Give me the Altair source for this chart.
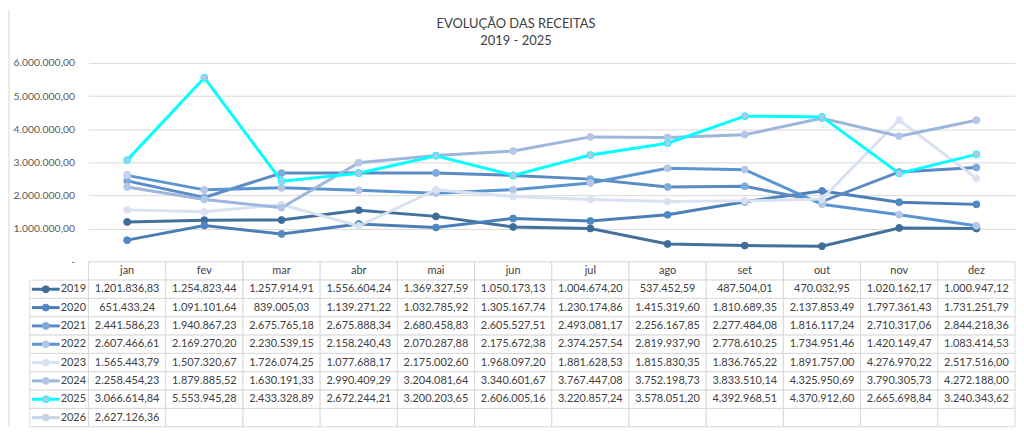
import altair as alt
import pandas as pd

months = ["jan", "fev", "mar", "abr", "mai", "jun", "jul", "ago", "set", "out", "nov", "dez"]
years = ["2019", "2020", "2021", "2022", "2023", "2024", "2025", "2026"]

v2019 = [1201836.83, 1254823.44, 1257914.91, 1556604.24, 1369327.59, 1050173.13,
         1004674.20, 537452.59, 487504.01, 470032.95, 1020162.17, 1000947.12]
v2020 = [651433.24, 1091101.64, 839005.03, 1139271.22, 1032785.92, 1305167.74,
         1230174.86, 1415319.60, 1810689.35, 2137853.49, 1797361.43, 1731251.79]
v2021 = [2441586.23, 1940867.23, 2675765.18, 2675888.34, 2680458.83, 2605527.51,
         2493081.17, 2256167.85, 2277484.08, 1816117.24, 2710317.06, 2844218.36]
v2022 = [2607466.61, 2169270.20, 2230539.15, 2158240.43, 2070287.88, 2175672.38,
         2374257.54, 2819937.90, 2778610.25, 1734951.46, 1420149.47, 1083414.53]
v2023 = [1565443.79, 1507320.67, 1726074.25, 1077688.17, 2175002.60, 1968097.20,
         1881628.53, 1815830.35, 1836765.22, 1891757.00, 4276970.22, 2517516.00]
v2024 = [2258454.23, 1879885.52, 1630191.33, 2990409.29, 3204081.64, 3340601.67,
         3767447.08, 3752198.73, 3833510.14, 4325950.69, 3790305.73, 4272188.00]
v2025 = [3066614.84, 5553945.28, 2433328.89, 2672244.21, 3200203.65, 2606005.16,
         3220857.24, 3578051.20, 4392968.51, 4370912.60, 2665698.84, 3240343.62]
v2026 = [2627126.36, None, None, None, None, None, None, None, None, None, None, None]

y_ticks = [0, 1000000, 2000000, 3000000, 4000000, 5000000, 6000000]

line_colors = ["#44719C", "#4A7EB6", "#5B8BC3", "#5B95D1", "#D9E2F2", "#9CB6DE", "#00FFFF", "#C8D5EC"]
marker_fill = ["#3F6D99", "#4F89C4", "#7DAADD", "#B4C7E7", "#D9E2F3", "#B4C7E7", "#B4C7E7", "#C5D3EA"]
marker_stroke = ["#3F6D99", "#4F89C4", "#7DAADD", "#B4C7E7", "#D9E2F3", "#B4C7E7", "#00FFFF", "#C5D3EA"]

series = dict(zip(years, [v2019, v2020, v2021, v2022, v2023, v2024, v2025, v2026]))

recs = []
for yr in years:
    for m, v in zip(months, series[yr]):
        if v is not None:
            recs.append({"ano": yr, "mes": m, "valor": v})
df = pd.DataFrame(recs)

FONT = "Lato"
TXT = "#404040"
GRID = "#D9D9D9"
W = 932

color_scale = alt.Scale(domain=years, range=line_colors)
fill_scale = alt.Scale(domain=years, range=marker_fill)
stroke_scale = alt.Scale(domain=years, range=marker_stroke)

x_pt = alt.X("mes:O", sort=months, axis=None, scale=alt.Scale(domain=months, padding=0.5))
y_val = alt.Y(
    "valor:Q",
    scale=alt.Scale(domain=[0, 6000000], nice=False),
    axis=alt.Axis(values=y_ticks, format=",.2f",
                  labelExpr="datum.value == 0 ? '-' : datum.label",
                  grid=True, gridColor=GRID, gridWidth=1, domain=False, ticks=False,
                  labelPadding=14, title=None, labelFont=FONT, labelFontSize=10.5,
                  labelColor="#595959"),
)

lines = alt.Chart(df).mark_line(strokeWidth=3).encode(
    x=x_pt, y=y_val,
    color=alt.Color("ano:N", scale=color_scale, legend=None),
)
points = alt.Chart(df).mark_circle(size=48, opacity=1, strokeWidth=1).encode(
    x=x_pt, y=y_val,
    fill=alt.Fill("ano:N", scale=fill_scale, legend=None),
    stroke=alt.Stroke("ano:N", scale=stroke_scale, legend=None),
)

top = alt.layer(lines, points).properties(
    width=W, height=200,
    title=alt.Title(["EVOLUÇÃO DAS RECEITAS", "2019 - 2025"], font=FONT, fontSize=13,
                    fontWeight="normal", color=TXT, anchor="middle", frame="group",
                    dx=-36, offset=10, lineHeight=17),
)

# ---- data table ----
rows = ["h"] + years
cells = pd.DataFrame([{"row": r, "mes": m} for r in rows for m in months])
header = pd.DataFrame([{"row": "h", "mes": m} for m in months])
legend_df = pd.DataFrame({"row": years, "ano": years})
vals = df.copy()
vals["row"] = vals["ano"]

x_band = alt.X("mes:O", sort=months, axis=None,
               scale=alt.Scale(domain=months, paddingInner=0, paddingOuter=0))
y_band = alt.Y("row:O", sort=rows,
               scale=alt.Scale(domain=rows, paddingInner=0, paddingOuter=0),
               axis=alt.Axis(labelExpr="datum.value == 'h' ? '' : datum.value",
                             ticks=False, domain=False, labelPadding=3, title=None,
                             labelFont=FONT, labelFontSize=11, labelColor=TXT))

frame = alt.Chart(pd.DataFrame({"k": [0]})).mark_rule(color=GRID, strokeWidth=1).encode(
    x=alt.value(-80), y=alt.value(-253), y2=alt.value(166)
)
cell_rects = alt.Chart(cells).mark_rect(fill="white", stroke=GRID, strokeWidth=1).encode(
    x=x_band, y=y_band)
left_rects = alt.Chart(legend_df).mark_rect(fill="white", stroke=GRID, strokeWidth=1).encode(
    x=alt.value(-59), x2=alt.value(0), y=y_band)
leg_lines = alt.Chart(legend_df).mark_rule(strokeWidth=3).encode(
    x=alt.value(-57), x2=alt.value(-29), y=y_band,
    color=alt.Color("ano:N", scale=color_scale, legend=None))
leg_pts = alt.Chart(legend_df).mark_circle(size=48, opacity=1, strokeWidth=1).encode(
    x=alt.value(-43), y=y_band,
    fill=alt.Fill("ano:N", scale=fill_scale, legend=None),
    stroke=alt.Stroke("ano:N", scale=stroke_scale, legend=None))
head_txt = alt.Chart(header).mark_text(font=FONT, fontSize=11, color=TXT).encode(
    x=x_band, y=y_band, text="mes:N")
val_txt = alt.Chart(vals).mark_text(font=FONT, fontSize=11, color=TXT).encode(
    x=x_band, y=y_band, text=alt.Text("valor:Q", format=",.2f"))

table = alt.layer(frame, cell_rects, left_rects, leg_lines, leg_pts, head_txt, val_txt).properties(
    width=W, height=166)

chart = alt.vconcat(top, table, spacing=0, bounds="flush").properties(
    padding=0, background="white"
).resolve_scale(color="shared", fill="shared", stroke="shared").configure(
    locale={"number": {"decimal": ",", "thousands": ".", "grouping": [3],
                       "currency": ["R$ ", ""]}}
).configure_view(stroke=None)

chart.save("out.html", embed_options={"renderer": "svg", "actions": False})
